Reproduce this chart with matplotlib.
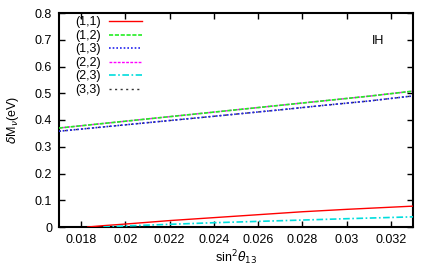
import matplotlib
matplotlib.use("Agg")
import matplotlib.pyplot as plt

plt.rcParams['font.family'] = ['Liberation Sans', 'DejaVu Sans']

# sin^2(theta_13) sample points
x = [0.017, 0.019, 0.021, 0.023, 0.025, 0.027, 0.029, 0.031, 0.033]

m12 = [0.370, 0.387, 0.404, 0.421, 0.438, 0.455, 0.472, 0.489, 0.508]
m13 = [0.358, 0.374, 0.390, 0.406, 0.422, 0.438, 0.455, 0.471, 0.490]
m22 = m12
m33 = m13

x11 = [0.0183, 0.019, 0.020, 0.022, 0.024, 0.026, 0.028, 0.030, 0.033]
m11 = [0.000, 0.005, 0.011, 0.024, 0.035, 0.046, 0.057, 0.066, 0.078]
x23 = [0.0190, 0.020, 0.022, 0.024, 0.026, 0.028, 0.030, 0.033]
m23 = [0.000, 0.004, 0.010, 0.016, 0.021, 0.026, 0.031, 0.038]

labels = ["(1,1)", "(1,2)", "(1,3)", "(2,2)", "(2,3)", "(3,3)"]

fig = plt.figure(figsize=(4.36, 2.73), dpi=100)
ax = fig.add_axes([59 / 436, 1 - 227 / 273, 354 / 436, 214 / 273])

ax.plot(x11, m11, color='red', lw=1.0, ls='-', label=labels[0], zorder=4)
ax.plot(x, m12, color='#22ee22', lw=1.2, ls=(0, (2.5, 1)), label=labels[1], zorder=4)
ax.plot(x, m13, color='#2222ee', lw=1.2, ls=(0, (1, 1.2)), label=labels[2], zorder=4)
ax.plot(x, m22, color='magenta', lw=1.0, ls=(0, (2, 1)), label=labels[3], zorder=1)
ax.plot(x23, m23, color='#00dddd', lw=1.2, ls=(0, (4, 1.5, 1, 1.5)), label=labels[4], zorder=4)
ax.plot(x, m33, color='#333333', lw=1.0, ls=(0, (1.5, 2.5)), label=labels[5], zorder=1)

ax.set_xlim(0.017, 0.033)
ax.set_ylim(0, 0.8)
ax.set_xticks([0.018, 0.02, 0.022, 0.024, 0.026, 0.028, 0.03, 0.032])
ax.set_xticklabels(["0.018", "0.02", "0.022", "0.024", "0.026", "0.028", "0.03", "0.032"])
ax.set_yticks([0, 0.1, 0.2, 0.3, 0.4, 0.5, 0.6, 0.7, 0.8])
ax.set_yticklabels(["0", "0.1", "0.2", "0.3", "0.4", "0.5", "0.6", "0.7", "0.8"])
ax.tick_params(direction='in', top=True, right=True, length=4, width=1, labelsize=9, pad=5)
for s in ax.spines.values():
    s.set_linewidth(1.5)

ax.set_xlabel(r"sin$^2\theta_{13}$", fontsize=9, labelpad=2)
ax.set_ylabel(r"$\delta$M$_\nu$(eV)", fontsize=9, labelpad=10)
ax.text(0.9, 0.87, "IH", transform=ax.transAxes, fontsize=9, ha='center', va='center')

ax.legend(loc='upper left', bbox_to_anchor=(0.02, 1.025), frameon=False, markerfirst=False,
          fontsize=9, handlelength=2.7, labelspacing=0.12, handletextpad=0.65, borderaxespad=0.3)

fig.savefig("out.png", dpi=100)
